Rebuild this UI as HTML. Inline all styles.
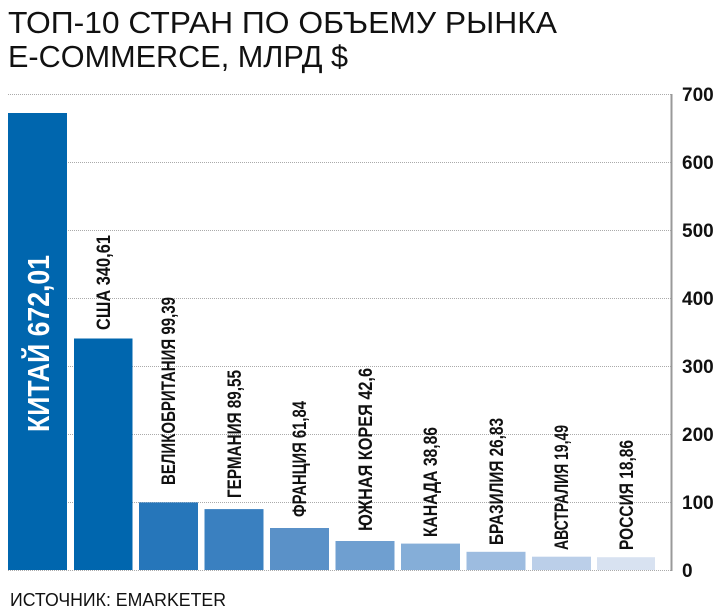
<!DOCTYPE html>
<html><head><meta charset="utf-8"><style>
html,body{margin:0;padding:0;background:#fff;}
svg{display:block;font-family:"Liberation Sans",sans-serif;}
</style></head><body>
<svg width="720" height="616" viewBox="0 0 720 616" xmlns="http://www.w3.org/2000/svg">
<rect width="720" height="616" fill="#fff"/>
<text x="8" y="33" font-size="31" fill="#111" textLength="549" lengthAdjust="spacingAndGlyphs">ТОП-10 СТРАН ПО ОБЪЕМУ РЫНКА</text>
<text x="8" y="67" font-size="31" fill="#111" textLength="340" lengthAdjust="spacingAndGlyphs">E-COMMERCE, МЛРД $</text>
<g stroke="#aaa" stroke-width="1" stroke-dasharray="1,1">
<line x1="8" x2="672" y1="94.5" y2="94.5"/><line x1="8" x2="672" y1="162.5" y2="162.5"/>
<line x1="8" x2="672" y1="230.5" y2="230.5"/><line x1="8" x2="672" y1="298.5" y2="298.5"/>
<line x1="8" x2="672" y1="366.5" y2="366.5"/><line x1="8" x2="672" y1="434.5" y2="434.5"/>
<line x1="8" x2="672" y1="502.5" y2="502.5"/><line x1="8" x2="672" y1="570.5" y2="570.5"/>
</g>
<line x1="671.5" x2="671.5" y1="94" y2="571" stroke="#999" stroke-width="2"/>
<g font-size="19" fill="#111" font-weight="bold">
<text x="682" y="101">700</text><text x="682" y="169">600</text><text x="682" y="237">500</text>
<text x="682" y="305">400</text><text x="682" y="373">300</text><text x="682" y="441">200</text>
<text x="682" y="509">100</text><text x="682" y="577">0</text>
</g>
<g>
<rect x="8" y="113" width="59" height="457" fill="#0066ae"/>
<rect x="74" y="338.5" width="58.5" height="231.5" fill="#0066ae"/>
<rect x="139" y="502.4" width="59" height="67.6" fill="#2676ba"/>
<rect x="204.5" y="509.1" width="59" height="60.9" fill="#3a80c0"/>
<rect x="270" y="528" width="59" height="42" fill="#5a91c8"/>
<rect x="335.5" y="541" width="59" height="29" fill="#6f9fd0"/>
<rect x="401" y="543.6" width="59" height="26.4" fill="#85aed8"/>
<rect x="466.5" y="551.8" width="59" height="18.2" fill="#9dbce0"/>
<rect x="532" y="556.7" width="59" height="13.3" fill="#bbcfe9"/>
<rect x="597" y="557.2" width="58" height="12.8" fill="#d8e2f1"/>
</g>
<text transform="translate(49,432) rotate(-90)" font-size="31" font-weight="bold" fill="#fff" textLength="177" lengthAdjust="spacingAndGlyphs">КИТАЙ 672,01</text>
<g font-size="19" font-weight="bold" fill="#111">
<text transform="translate(110,330) rotate(-90)" textLength="95" lengthAdjust="spacingAndGlyphs">США 340,61</text>
<text transform="translate(175,485) rotate(-90)" textLength="188" lengthAdjust="spacingAndGlyphs">ВЕЛИКОБРИТАНИЯ 99,39</text>
<text transform="translate(241,498) rotate(-90)" textLength="128" lengthAdjust="spacingAndGlyphs">ГЕРМАНИЯ 89,55</text>
<text transform="translate(306,517) rotate(-90)" textLength="116" lengthAdjust="spacingAndGlyphs">ФРАНЦИЯ 61,84</text>
<text transform="translate(372,531) rotate(-90)" textLength="163" lengthAdjust="spacingAndGlyphs">ЮЖНАЯ КОРЕЯ  42,6</text>
<text transform="translate(437,537) rotate(-90)" textLength="110" lengthAdjust="spacingAndGlyphs">КАНАДА  38,86</text>
<text transform="translate(503,545) rotate(-90)" textLength="127" lengthAdjust="spacingAndGlyphs">БРАЗИЛИЯ  26,83</text>
<text transform="translate(568,550) rotate(-90)" textLength="125" lengthAdjust="spacingAndGlyphs">АВСТРАЛИЯ 19,49</text>
<text transform="translate(633,550) rotate(-90)" textLength="110" lengthAdjust="spacingAndGlyphs">РОССИЯ  18,86</text>
</g>
<text x="10" y="606" font-size="18" fill="#111" textLength="216" lengthAdjust="spacingAndGlyphs">ИСТОЧНИК: EMARKETER</text>
</svg>
</body></html>
